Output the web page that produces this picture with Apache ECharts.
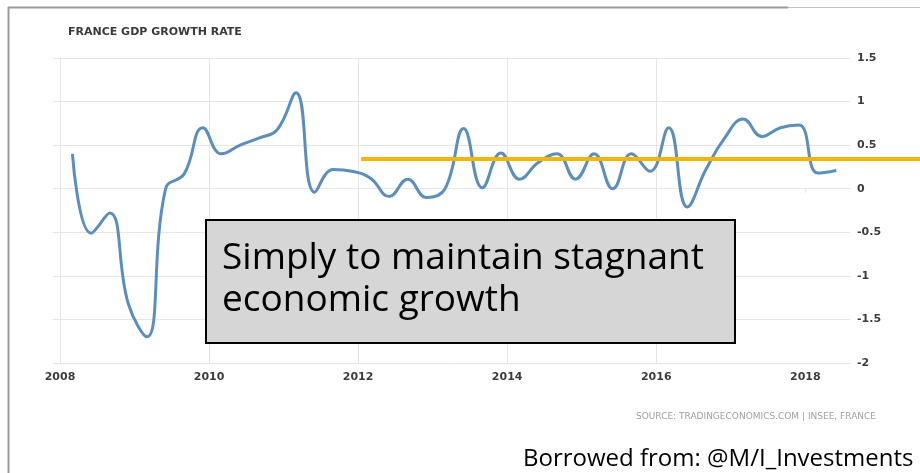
<!DOCTYPE html>
<html>
<head>
<meta charset="utf-8">
<script src="https://cdn.jsdelivr.net/npm/echarts@6/dist/echarts.min.js"></script>
<style>
html,body{margin:0;padding:0;background:#fff;}
#chart{width:920px;height:473px;}
</style>
</head>
<body>
<div id="chart"></div>
<script>
// ---- data ----
const quarters = [
  '2008Q1','2008Q2','2008Q3','2008Q4','2009Q1','2009Q2','2009Q3','2009Q4',
  '2010Q1','2010Q2','2010Q3','2010Q4','2011Q1','2011Q2','2011Q3','2011Q4',
  '2012Q1','2012Q2','2012Q3','2012Q4','2013Q1','2013Q2','2013Q3','2013Q4',
  '2014Q1','2014Q2','2014Q3','2014Q4','2015Q1','2015Q2','2015Q3','2015Q4',
  '2016Q1','2016Q2','2016Q3','2016Q4','2017Q1','2017Q2','2017Q3','2017Q4',
  '2018Q1','2018Q2'
];
const gdpGrowth = [
  0.40, -0.51, -0.28, -1.32, -1.70, 0.00, 0.17, 0.70,
  0.40, 0.50, 0.58, 0.68, 1.10, -0.04, 0.22, 0.20,
  0.12, -0.09, 0.11, -0.10, 0.00, 0.69, 0.01, 0.41,
  0.11, 0.30, 0.40, 0.11, 0.40, 0.00, 0.40, 0.20,
  0.70, -0.21, 0.22, 0.58, 0.80, 0.60, 0.70, 0.73,
  0.18, 0.21
];
const xTickYears = [2008, 2010, 2012, 2014, 2016, 2018];
const yTickValues = [-2, -1.5, -1, -0.5, 0, 0.5, 1, 1.5];
const averageLine = { fromYear: 2012.04, toYear: 2019.6, value: 0.34 };
const titleText = 'FRANCE GDP GROWTH RATE';
const sourceText = 'SOURCE: TRADINGECONOMICS.COM | INSEE, FRANCE';
const boxLines = ['Simply to maintain stagnant', 'economic growth'];
const creditText = 'Borrowed from: @M/I_Investments';

// quarter label -> decimal year (points sit ~2 months into the quarter)
function quarterToYear(q) {
  const y = parseInt(q.slice(0, 4), 10);
  const n = parseInt(q.slice(5), 10);
  return y + (n - 1) / 4 + 1 / 6;
}
const seriesData = quarters.map((q, i) => [quarterToYear(q), gdpGrowth[i]]);

const chart = echarts.init(document.getElementById('chart'), null, { renderer: 'canvas' });
const gridTop = 58, gridBottom = 110;
const labelFont = { fontFamily: 'DejaVu Sans', fontWeight: 'bold', fontSize: 11, color: '#3c3c3c' };

const option = {
  backgroundColor: '#ffffff',
  animation: false,
  title: {
    text: titleText,
    left: 63, top: 22,
    textStyle: { fontFamily: 'DejaVu Sans', fontWeight: 'bold', fontSize: 11, color: '#3a3a3a' }
  },
  grid: [
    { left: 60, right: 70, top: gridTop, bottom: gridBottom },
    { left: 53, right: 70, top: gridTop, bottom: gridBottom },
    { left: 60, right: 0, top: gridTop, bottom: gridBottom }
  ],
  xAxis: [
    {
      gridIndex: 0, type: 'value', min: 2008, max: 2018.6, interval: 2,
      axisLine: { show: false },
      axisTick: { show: true, length: 4, customValues: xTickYears, lineStyle: { color: '#e4e4e4' } },
      axisLabel: Object.assign({ margin: 9, customValues: xTickYears, formatter: v => String(v) }, labelFont),
      splitLine: { show: true, showMaxLine: false, lineStyle: { color: '#e6e6e6', width: 1 } }
    },
    { gridIndex: 1, type: 'value', min: 0, max: 1, show: false },
    { gridIndex: 2, type: 'value', min: 2008, max: 2008 + 860 / (790 / 10.6), show: false }
  ],
  yAxis: [
    { gridIndex: 0, type: 'value', min: -2, max: 1.5, show: false },
    {
      gridIndex: 1, type: 'value', min: -2, max: 1.5, interval: 0.5, position: 'right',
      axisLine: { show: false }, axisTick: { show: false },
      axisLabel: Object.assign({ margin: 7, customValues: yTickValues }, labelFont),
      splitLine: { show: true, lineStyle: { color: '#e6e6e6', width: 1 } }
    },
    { gridIndex: 2, type: 'value', min: -2, max: 1.5, show: false }
  ],
  series: [
    {
      type: 'line', xAxisIndex: 0, yAxisIndex: 0,
      data: seriesData, smooth: 0.45, showSymbol: false, symbol: 'none',
      lineStyle: { color: '#5b8ebd', width: 3 }, z: 3
    },
    {
      type: 'line', xAxisIndex: 2, yAxisIndex: 2,
      data: [[averageLine.fromYear, averageLine.value], [averageLine.toYear, averageLine.value]],
      showSymbol: false, symbol: 'none',
      lineStyle: { color: '#f7b400', width: 4 }, z: 4
    }
  ],
  graphic: [
    { type: 'line', shape: { x1: 8.5, y1: 7, x2: 8.5, y2: 473 }, style: { stroke: '#9a9a9a', lineWidth: 2 } },
    { type: 'line', shape: { x1: 8, y1: 7.5, x2: 788, y2: 7.5 }, style: { stroke: '#9a9a9a', lineWidth: 2 } },
    { type: 'line', shape: { x1: 788, y1: 7.5, x2: 920, y2: 7.5 }, style: { stroke: '#c4c4c4', lineWidth: 1 } },
    {
      type: 'text', x: 876, y: 417, z: 10,
      style: { text: sourceText, fontFamily: 'DejaVu Sans', fontSize: 9, fill: '#a0a0a0', align: 'right', verticalAlign: 'middle' }
    },
    {
      type: 'rect', z: 20,
      shape: { x: 206, y: 220, width: 529, height: 123 },
      style: { fill: '#d6d6d6', stroke: '#000000', lineWidth: 2 }
    },
    {
      type: 'text', x: 222, y: 258, z: 21,
      style: { text: boxLines[0], fontFamily: 'Open Sans', fontSize: 37, fill: '#000', align: 'left', verticalAlign: 'middle' }
    },
    {
      type: 'text', x: 222, y: 300, z: 21,
      style: { text: boxLines[1], fontFamily: 'Open Sans', fontSize: 37, fill: '#000', align: 'left', verticalAlign: 'middle' }
    },
    {
      type: 'text', x: 523, y: 459, z: 21,
      style: { text: creditText, fontFamily: 'Open Sans', fontSize: 24, fill: '#000', align: 'left', verticalAlign: 'middle' }
    }
  ]
};
chart.setOption(option);
</script>
</body>
</html>
